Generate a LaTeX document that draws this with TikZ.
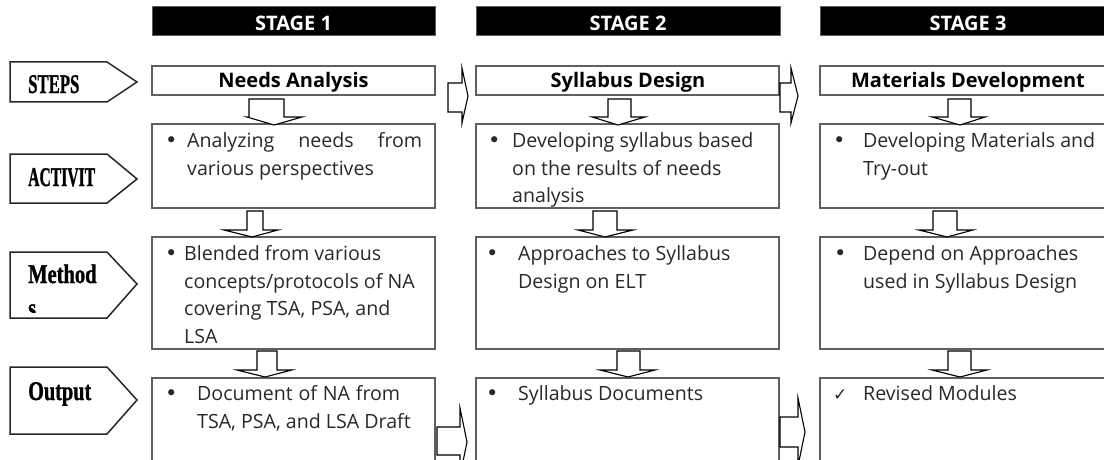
\documentclass[tikz,border=0pt]{standalone}
\usepackage{fontspec}
\setmainfont{Open Sans}
\newfontfamily\lblfont{Liberation Serif}[FakeBold=1.3]
\newfontfamily\symfont{DejaVu Sans}
\definecolor{boxgray}{RGB}{95,95,95}
\definecolor{ink}{RGB}{40,40,40}
\newcommand\darrow[8]{\draw[blk] (#1,#3) -- (#2,#3) -- (#2,#4) -- (#6,#4) -- (#7,#8) -- (#5,#4) -- (#1,#4) -- cycle;}
\newcommand\harrow[8]{\draw[blk] (#1,#3) -- (#2,#3) -- (#2,#5) -- (#7,#8) -- (#2,#6) -- (#2,#4) -- (#1,#4) -- cycle;}
\newcommand\pent[3]{\draw[lblbox] (10,#1) -- (107,#1) -- (137,#3) -- (107,#2) -- (10,#2) -- cycle;}
\newcommand\jline[2]{\makebox[#1pt][s]{#2}}
\begin{document}
\begin{tikzpicture}[x=1pt,y=-1pt,
  box/.style={draw=boxgray,line width=1.3pt},
  hdr/.style={fill=black,draw=boxgray,line width=1pt},
  blk/.style={draw=black,line width=1.1pt,fill=white,line join=miter},
  lblbox/.style={draw=black!85,line width=1.5pt},
  txt/.style={inner sep=0pt,anchor=base west,font=\fontsize{19.6}{28}\selectfont,text=ink},
  bul/.style={inner sep=0pt,anchor=base west,font=\symfont\fontsize{21}{28}\selectfont,text=ink},
  ttl/.style={inner sep=0pt,anchor=base,font=\bfseries\fontsize{20}{28}\selectfont},
  lbl/.style={inner sep=0pt,anchor=base west,font=\lblfont\bfseries\fontsize{27}{30}\selectfont}]
\useasboundingbox (0,0) rectangle (1104,460);
\clip (0,0) rectangle (1104,460);
% headers
\draw[hdr] (152,7) rectangle (435,36);
\draw[hdr] (476,7) rectangle (780,36);
\draw[hdr] (820,7) rectangle (1116,36);
\node[ttl,text=white] (h1) at (293.5,31) {STAGE 1};
\node[ttl,text=white] (h2) at (628,31) {STAGE 2};
\node[ttl,text=white] (h3) at (968,31) {STAGE 3};
% boxes
\foreach \a/\b in {152/435,476/779,820/1116}{
  \draw[box] (\a,66) rectangle (\b,95);
  \draw[box] (\a,124) rectangle (\b,208);
  \draw[box] (\a,237) rectangle (\b,349);
  \draw[box] (\a,378) rectangle (\b,480);
}
\node[ttl] (t1) at (293.5,88) {Needs Analysis};
\node[ttl] (t2) at (628,88) {Syllabus Design};
\node[ttl] (t3) at (968,88) {Materials Development};
% down arrows
\darrow{249}{284}{99}{117}{247}{302}{274}{125}
\darrow{247}{263}{211}{230}{224}{278}{252}{237}
\darrow{257}{277}{351}{370}{237}{292}{265}{377}
\darrow{608}{631}{99}{117}{592}{645}{618}{125}
\darrow{593}{617}{211}{230}{578}{633}{605}{237}
\darrow{617}{640}{351}{370}{600}{655}{628}{377}
\darrow{948}{971}{99}{117}{932}{985}{960}{125}
\darrow{933}{957}{211}{230}{919}{973}{947}{237}
\darrow{948}{971}{351}{370}{932}{987}{960}{377}
% horizontal arrows
\harrow{448}{462}{83}{112}{68}{123}{468}{96}
\harrow{780}{791}{83}{112}{68}{123}{798}{96}
\harrow{437}{460}{427}{455}{408}{476}{467}{442}
\harrow{780}{798}{417}{447}{398}{466}{805}{432}
% left labels
\pent{62}{102}{82}
\pent{154}{203}{179}
\pent{252}{318}{284}
\pent{367}{434}{400}
\node[lbl] (l1) at (28,93) {\scalebox{0.62}[1]{STEPS}};
\node[lbl] (l2) at (28,186) {\scalebox{0.58}[1]{ACTIVIT}};
\node[lbl] (l3) at (28,283) {\scalebox{0.76}[1]{Method}};
\begin{scope}
\clip (10,252) rectangle (137,312);
\node[lbl] (l3b) at (28,317) {\scalebox{0.76}[1]{s}};
\end{scope}
\node[lbl] (l4) at (28,400) {\scalebox{0.75}[1]{Output}};
% stage 1 texts
\node[bul] (b1a) at (165,147) {•};
\node[txt] (a1a) at (187,147) {\jline{235}{Analyzing needs from}};
\node[txt] (a1b) at (187,175) {various perspectives};
\node[bul] (b1m) at (165,260) {•};
\node[txt] (m1a) at (184,260) {Blended from various};
\node[txt] (m1b) at (184,288) {concepts/protocols of NA};
\node[txt] (m1c) at (184,315) {covering TSA, PSA, and};
\node[txt] (m1d) at (184,343) {LSA};
\node[bul] (b1o) at (165,400) {•};
\node[txt] (o1a) at (197,400) {\jline{203}{Document of NA from}};
\node[txt] (o1b) at (197,428) {TSA, PSA, and LSA Draft};
% stage 2 texts
\node[bul] (b2a) at (488,147) {•};
\node[txt] (a2a) at (512,147) {Developing syllabus based};
\node[txt] (a2b) at (512,175) {on the results of needs};
\node[txt] (a2c) at (512,202) {analysis};
\node[bul] (b2m) at (486,260) {•};
\node[txt] (m2a) at (518,260) {Approaches to Syllabus};
\node[txt] (m2b) at (518,288) {Design on ELT};
\node[bul] (b2o) at (486,400) {•};
\node[txt] (o2a) at (518,400) {Syllabus Documents};
% stage 3 texts
\node[bul] (b3a) at (833,147) {•};
\node[txt] (a3a) at (863,147) {Developing Materials and};
\node[txt] (a3b) at (863,175) {Try-out};
\node[bul] (b3m) at (834,260) {•};
\node[txt] (m3a) at (863,260) {Depend on Approaches};
\node[txt] (m3b) at (863,288) {used in Syllabus Design};
\node[txt,font=\symfont\fontsize{17}{28}\selectfont] (b3o) at (833,400) {✓};
\node[txt] (o3a) at (863,400) {Revised Modules};
\end{tikzpicture}
\end{document}
